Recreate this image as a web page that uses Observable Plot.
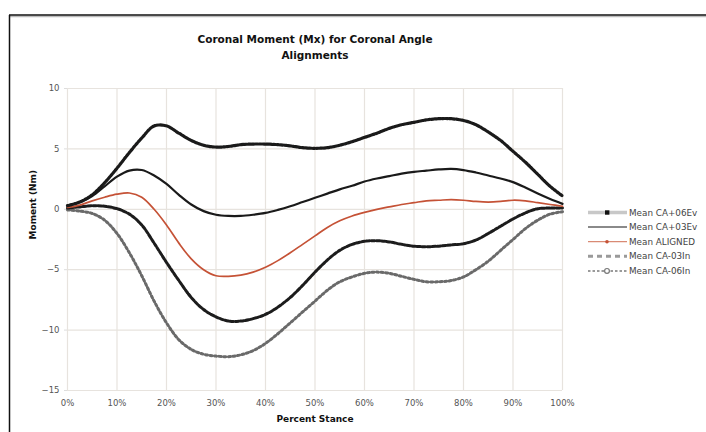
<!DOCTYPE html>
<html>
<head>
<meta charset="utf-8">
<script src="https://cdn.jsdelivr.net/npm/d3@7"></script>
<script src="https://cdn.jsdelivr.net/npm/@observablehq/plot@0.6"></script>
<style>
  html, body { margin: 0; padding: 0; background: #fff; }
  #chart svg { display: block; }
</style>
</head>
<body>
<div id="chart"></div>
<script>
const title = "Coronal Moment (Mx) for Coronal Angle\nAlignments";
const xLabel = "Percent Stance";
const yLabel = "Moment (Nm)";
const xTicks = [0, 10, 20, 30, 40, 50, 60, 70, 80, 90, 100];
const yTicks = [-15, -10, -5, 0, 5, 10];

const stance = [0, 2.5, 5, 7.5, 10, 12.5, 15, 17.5, 20, 22.5, 25, 27.5, 30, 32.5, 35, 37.5, 40, 42.5, 45, 47.5, 50,
  52.5, 55, 57.5, 60, 62.5, 65, 67.5, 70, 72.5, 75, 77.5, 80, 82.5, 85, 87.5, 90, 92.5, 95, 97.5, 100];

const seriesNames = ["Mean CA+06Ev", "Mean CA+03Ev", "Mean ALIGNED", "Mean CA-03In", "Mean CA-06In"];

const ca06Ev = [0.3, 0.6, 1.2, 2.2, 3.4, 4.7, 5.9, 6.9, 6.9, 6.3, 5.7, 5.3, 5.15, 5.2, 5.35, 5.4, 5.4, 5.35, 5.25, 5.1, 5.05,
  5.1, 5.3, 5.6, 5.95, 6.3, 6.7, 7.0, 7.2, 7.4, 7.5, 7.5, 7.35, 7.0, 6.4, 5.7, 4.8, 3.9, 2.9, 1.9, 1.1];
const ca03Ev = [0.3, 0.6, 1.1, 1.9, 2.7, 3.2, 3.25, 2.8, 2.1, 1.2, 0.4, -0.15, -0.45, -0.55, -0.55, -0.45, -0.3, -0.05, 0.25, 0.6, 0.95,
  1.3, 1.65, 1.95, 2.3, 2.55, 2.75, 2.95, 3.1, 3.2, 3.3, 3.35, 3.25, 3.05, 2.8, 2.55, 2.25, 1.8, 1.3, 0.85, 0.45];
const aligned = [0.15, 0.35, 0.7, 1.0, 1.25, 1.35, 1.0, 0.0, -1.3, -2.8, -4.1, -5.0, -5.5, -5.55, -5.45, -5.2, -4.8, -4.25, -3.6, -2.9, -2.2,
  -1.5, -0.95, -0.55, -0.25, 0.0, 0.2, 0.4, 0.55, 0.7, 0.75, 0.8, 0.75, 0.65, 0.6, 0.65, 0.75, 0.7, 0.55, 0.4, 0.25];
const ca03In = [0.1, 0.2, 0.3, 0.25, 0.05, -0.4, -1.3, -2.8, -4.4, -5.9, -7.3, -8.3, -8.9, -9.25, -9.25, -9.05, -8.7, -8.1, -7.3, -6.3, -5.2,
  -4.2, -3.4, -2.9, -2.65, -2.6, -2.7, -2.9, -3.05, -3.1, -3.05, -2.95, -2.85, -2.55, -2.0, -1.4, -0.8, -0.3, 0.05, 0.1, 0.1];
const ca06In = [-0.05, -0.15, -0.35, -0.9, -2.0, -3.6, -5.5, -7.6, -9.4, -10.8, -11.6, -12.0, -12.15, -12.2, -12.05, -11.7, -11.1, -10.3, -9.4, -8.5, -7.6,
  -6.7, -6.0, -5.6, -5.3, -5.2, -5.3, -5.55, -5.8, -6.0, -6.0, -5.9, -5.6, -5.0, -4.3, -3.4, -2.5, -1.6, -0.9, -0.4, -0.2];

const toRows = (vals, name) => vals.map((v, i) => ({x: stance[i], y: v, series: name}));
const d06Ev = toRows(ca06Ev, seriesNames[0]);
const d03Ev = toRows(ca03Ev, seriesNames[1]);
const dAl = toRows(aligned, seriesNames[2]);
const d03In = toRows(ca03In, seriesNames[3]);
const d06In = toRows(ca06In, seriesNames[4]);

const FONT = "DejaVu Sans, Verdana, sans-serif";
const RED = "#c55236";
const curve = "catmull-rom";

const chart = Plot.plot({
  width: 706,
  height: 432,
  marginLeft: 67,
  marginRight: 144,
  marginTop: 88,
  marginBottom: 42,
  style: {fontFamily: FONT, fontSize: "8px", background: "#fff", color: "#555"},
  x: {domain: [0, 100]},
  y: {domain: [-15, 10]},
  marks: [
    Plot.gridX(xTicks, {stroke: "#e7e3de", strokeOpacity: 1, strokeWidth: 1.2}),
    Plot.gridY(yTicks, {stroke: "#e7e3de", strokeOpacity: 1, strokeWidth: 1.2}),
    Plot.axisX(xTicks, {tickFormat: d => d + "%", tickSize: 0, tickPadding: 9, label: null, fill: "#555", fontSize: 8.5}),
    Plot.axisY(yTicks, {tickSize: 3, stroke: "#ddd", tickPadding: 5, label: null, fill: "#555", fontSize: 8.5}),
    // CA-06In (gray beaded)
    Plot.line(d06In, {x: "x", y: "y", stroke: "#c4c4c4", strokeWidth: 1.2, curve}),
    Plot.line(d06In, {x: "x", y: "y", stroke: "#6a6a6a", strokeWidth: 3, strokeDasharray: "2,2.6", curve}),
    // CA-03In (dashed black)
    Plot.line(d03In, {x: "x", y: "y", stroke: "#1c1c1c", strokeWidth: 3, strokeDasharray: "3.5,1.6", curve}),
    // ALIGNED (red)
    Plot.line(dAl, {x: "x", y: "y", stroke: RED, strokeWidth: 1.7, curve}),
    // CA+03Ev (solid black)
    Plot.line(d03Ev, {x: "x", y: "y", stroke: "#1a1a1a", strokeWidth: 2.2, curve}),
    // CA+06Ev (black beaded squares)
    Plot.line(d06Ev, {x: "x", y: "y", stroke: "#777", strokeWidth: 1.5, curve}),
    Plot.line(d06Ev, {x: "x", y: "y", stroke: "#1a1a1a", strokeWidth: 3.2, strokeDasharray: "2.2,1.4", curve}),
    // Title and axis labels
    Plot.text([title], {frameAnchor: "top", dy: -56, fontWeight: "bold", fontSize: 10.5, fill: "#111", lineHeight: 1.45, textAnchor: "middle", lineAnchor: "top"}),
    Plot.text([xLabel], {frameAnchor: "bottom", dy: 31, fontWeight: "bold", fontSize: 9, fill: "#111"}),
    Plot.text([yLabel], {frameAnchor: "left", dx: -34, rotate: -90, fontWeight: "bold", fontSize: 9, fill: "#111"})
  ]
});

document.getElementById("chart").appendChild(chart);

// Outer border (top and left edges) and legend
const svg = d3.select(chart);
svg.append("line").attr("x1", 9).attr("x2", 706).attr("y1", 16.5).attr("y2", 16.5).attr("stroke", "#bbb").attr("stroke-width", 1.5);
svg.append("line").attr("x1", 9).attr("x2", 706).attr("y1", 15).attr("y2", 15).attr("stroke", "#111").attr("stroke-width", 1.5);
svg.append("line").attr("x1", 9.5).attr("x2", 9.5).attr("y1", 15).attr("y2", 432).attr("stroke", "#111").attr("stroke-width", 1.5);

const legendStyles = [
  {stroke: "#c8c8c8", width: 3.5, dash: null, marker: "square", mcolor: "#111"},
  {stroke: "#8a8a8a", width: 2, dash: null, marker: null},
  {stroke: "#d98a74", width: 1.3, dash: null, marker: "dot", mcolor: RED},
  {stroke: "#9a9a9a", width: 3, dash: "5,4", marker: null},
  {stroke: "#9a9a9a", width: 2, dash: "2.5,2", marker: "circle", mcolor: "#777"}
];
const lg = svg.append("g").attr("font-family", FONT).attr("font-size", 8.8).attr("fill", "#444").attr("text-anchor", "start");
seriesNames.forEach((name, i) => {
  const y = 212.5 + i * 14.6;
  const s = legendStyles[i];
  const l = lg.append("line").attr("x1", 588).attr("x2", 627).attr("y1", y).attr("y2", y)
    .attr("stroke", s.stroke).attr("stroke-width", s.width);
  if (s.dash) l.attr("stroke-dasharray", s.dash);
  if (s.marker === "square") lg.append("rect").attr("x", 605).attr("y", y - 2.2).attr("width", 4.4).attr("height", 4.4).attr("fill", s.mcolor);
  if (s.marker === "dot") lg.append("circle").attr("cx", 607).attr("cy", y).attr("r", 1.8).attr("fill", s.mcolor);
  if (s.marker === "circle") lg.append("circle").attr("cx", 607).attr("cy", y).attr("r", 2.4).attr("fill", "#fff").attr("stroke", s.mcolor).attr("stroke-width", 1.2);
  lg.append("text").attr("x", 629).attr("y", y).attr("dy", "0.35em").attr("text-anchor", "start").text(name);
});
</script>
</body>
</html>
